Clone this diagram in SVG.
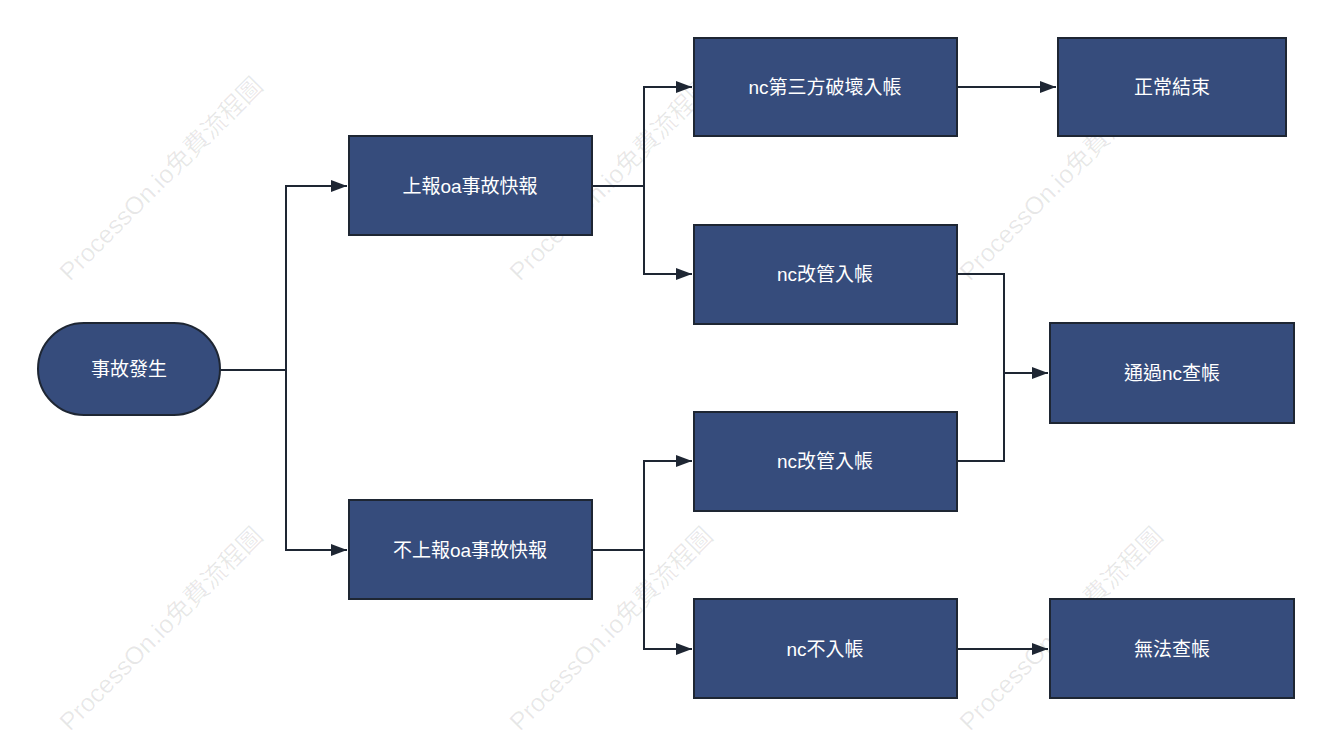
<svg xmlns="http://www.w3.org/2000/svg" width="1331" height="735" viewBox="0 0 1331 735">
<defs>
<style>
.n{fill:#364c7c;stroke:#1e2633;stroke-width:2}
.t{fill:#fff;font-family:"Liberation Sans","Noto Sans CJK TC",sans-serif;font-size:19px;text-anchor:middle;dominant-baseline:central}
.c{fill:none;stroke:#1e2633;stroke-width:2}
.w{fill:#000;fill-opacity:0.09;font-family:"Liberation Sans","Noto Sans CJK TC",sans-serif;font-size:25px}
</style>
<marker id="a" viewBox="0 0 16 12" refX="16" refY="6" markerWidth="16" markerHeight="12" markerUnits="userSpaceOnUse" orient="auto"><path d="M0,0L16,6L0,12z" fill="#1e2633"/></marker>
</defs>
<rect width="1331" height="735" fill="#fff"/>
<g id="watermarks">
<text class="w" transform="translate(70,282) rotate(-45)">ProcessOn.io免費流程圖</text>
<text class="w" transform="translate(520,282) rotate(-45)">ProcessOn.io免費流程圖</text>
<text class="w" transform="translate(970,282) rotate(-45)">ProcessOn.io免費流程圖</text>
<text class="w" transform="translate(70,732) rotate(-45)">ProcessOn.io免費流程圖</text>
<text class="w" transform="translate(520,732) rotate(-45)">ProcessOn.io免費流程圖</text>
<text class="w" transform="translate(970,732) rotate(-45)">ProcessOn.io免費流程圖</text>
</g>
<g id="connectors">
<path class="c" d="M220,370H286V186H347" marker-end="url(#a)"/>
<path class="c" d="M286,370V550H347" marker-end="url(#a)"/>
<path class="c" d="M592,186H644V87H692" marker-end="url(#a)"/>
<path class="c" d="M644,186V274H692" marker-end="url(#a)"/>
<path class="c" d="M592,550H644V461H692" marker-end="url(#a)"/>
<path class="c" d="M644,550V649H692" marker-end="url(#a)"/>
<path class="c" d="M957,87H1056" marker-end="url(#a)"/>
<path class="c" d="M957,274H1004V461H957"/>
<path class="c" d="M1004,373H1048" marker-end="url(#a)"/>
<path class="c" d="M957,649H1048" marker-end="url(#a)"/>
</g>
<g id="n1"><rect class="n" x="38" y="323" width="182" height="92" rx="46"/><text class="t" x="129" y="369">事故發生</text></g>
<g id="n2"><rect class="n" x="349" y="136" width="243" height="99"/><text class="t" x="470" y="186">上報oa事故快報</text></g>
<g id="n3"><rect class="n" x="349" y="500" width="243" height="99"/><text class="t" x="470" y="550">不上報oa事故快報</text></g>
<g id="n4"><rect class="n" x="694" y="38" width="263" height="98"/><text class="t" x="825" y="87">nc第三方破壞入帳</text></g>
<g id="n5"><rect class="n" x="694" y="225" width="263" height="99"/><text class="t" x="825" y="274">nc改管入帳</text></g>
<g id="n6"><rect class="n" x="694" y="412" width="263" height="99"/><text class="t" x="825" y="461">nc改管入帳</text></g>
<g id="n7"><rect class="n" x="694" y="599" width="263" height="99"/><text class="t" x="825" y="649">nc不入帳</text></g>
<g id="n8"><rect class="n" x="1058" y="38" width="228" height="98"/><text class="t" x="1172" y="87">正常結束</text></g>
<g id="n9"><rect class="n" x="1050" y="323" width="244" height="100"/><text class="t" x="1172" y="373">通過nc查帳</text></g>
<g id="n10"><rect class="n" x="1050" y="599" width="244" height="99"/><text class="t" x="1172" y="649">無法查帳</text></g>
</svg>
